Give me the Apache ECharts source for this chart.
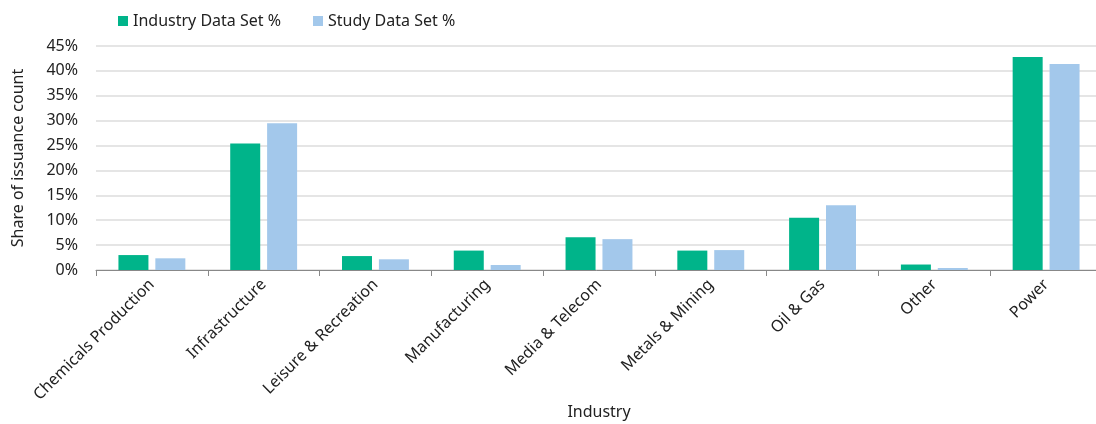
<!DOCTYPE html>
<html>
<head>
<meta charset="utf-8">
<script src="https://cdn.jsdelivr.net/npm/echarts@6/dist/echarts.min.js"></script>
<style>
  html, body { margin: 0; padding: 0; background: #fff; }
  #chart-container { width: 1096px; height: 424px; }
</style>
</head>
<body>
<div id="chart-container"></div>
<script>
var categories = [
  "Chemicals Production", "Infrastructure", "Leisure & Recreation",
  "Manufacturing", "Media & Telecom", "Metals & Mining",
  "Oil & Gas", "Other", "Power"
];
var industryValues = [3.0, 25.4, 2.8, 3.9, 6.6, 3.9, 10.5, 1.1, 42.8];
var studyValues = [2.35, 29.5, 2.15, 1.0, 6.2, 4.0, 13.0, 0.4, 41.4];
var yTicks = [0, 5, 10, 15, 20, 25, 30, 35, 40, 45];

var font = "Noto Sans";
var dom = document.getElementById("chart-container");
var myChart = echarts.init(dom, null, { renderer: "canvas" });

var option = {
  animation: false,
  textStyle: { fontFamily: font },
  legend: {
    top: 13,
    left: 118,
    padding: 0,
    itemWidth: 10,
    itemHeight: 10,
    itemGap: 32,
    icon: "rect",
    textStyle: { fontSize: 16, color: "#222", fontFamily: font },
    data: ["Industry Data Set %", "Study Data Set %"]
  },
  grid: {
    left: 96, right: -6, top: 46, bottom: 154,
    containLabel: false,
    outerBoundsMode: "none"
  },
  xAxis: {
    type: "category",
    data: categories,
    name: "Industry",
    nameLocation: "middle",
    nameGap: 134,
    nameMoveOverlap: false,
    nameTextStyle: { fontSize: 16, color: "#222" },
    axisLine: { lineStyle: { color: "#888", width: 1 } },
    axisTick: { show: true, length: 6, lineStyle: { color: "#888" } },
    axisLabel: {
      rotate: 45,
      fontSize: 16,
      color: "#222",
      interval: 0,
      margin: 12
    }
  },
  yAxis: {
    type: "value",
    min: yTicks[0],
    max: yTicks[yTicks.length - 1],
    interval: 5,
    name: "Share of issuance count",
    nameLocation: "middle",
    nameGap: 70,
    nameMoveOverlap: false,
    nameTextStyle: { fontSize: 16, color: "#222" },
    axisLine: { show: false },
    axisTick: { show: false },
    axisLabel: {
      fontSize: 16,
      color: "#222",
      margin: 18,
      formatter: function (v) { return v + "%"; }
    },
    splitLine: { lineStyle: { color: "#dcdcdc", width: 1.5 } }
  },
  series: [
    {
      name: "Industry Data Set %",
      type: "bar",
      data: industryValues,
      barWidth: 30,
      barGap: "23%",
      itemStyle: { color: "#00B48A" }
    },
    {
      name: "Study Data Set %",
      type: "bar",
      data: studyValues,
      barWidth: 30,
      itemStyle: { color: "#A3C8EB" }
    }
  ]
};

myChart.setOption(option);
window.addEventListener("resize", myChart.resize);
</script>
</body>
</html>
